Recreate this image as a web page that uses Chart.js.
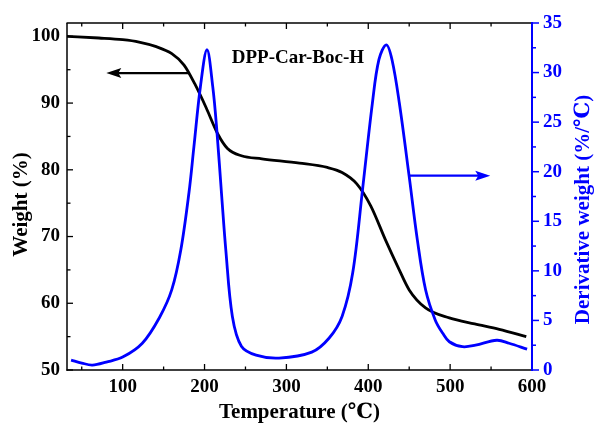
<!DOCTYPE html>
<html><head><meta charset="utf-8">
<script src="https://cdn.jsdelivr.net/npm/chart.js@4/dist/chart.umd.min.js"></script>
<style>html,body{margin:0;padding:0;background:#fff}canvas{display:block}</style>
</head><body>
<canvas id="c" width="598" height="429"></canvas>
<script>
// ---- data ----
const tgaTemp   = [32, 71, 100, 120, 140, 160, 175, 188, 202, 216, 228, 245, 270, 316, 350, 368, 386, 403, 421, 436, 450, 470, 499, 530, 560, 593];
const tgaWeight = [100, 99.75, 99.5, 99.15, 98.5, 97.4, 95.7, 92.9, 89.3, 85.4, 83.2, 82.1, 81.65, 81.0, 80.35, 79.6, 77.9, 74.6, 69.5, 65.5, 62.0, 59.3, 57.8, 56.9, 56.1, 55.0];
const dtgTemp   = [37, 50, 63, 80, 100, 124, 145, 160, 171, 181, 187, 195, 203, 210, 215, 221, 226, 234, 245, 263, 291, 331, 352, 368, 381, 393, 405, 413, 422, 429, 438, 450, 460, 470, 482, 491, 499, 515, 531, 557, 572, 594];
const dtgDeriv  = [1.0, 0.7, 0.5, 0.8, 1.3, 2.7, 5.3, 8.1, 12.1, 17.9, 22.5, 28.6, 32.3, 28.6, 24.2, 17.5, 12.1, 5.4, 2.4, 1.5, 1.2, 1.8, 3.2, 5.4, 9.8, 18.2, 26.9, 31.3, 32.8, 31.3, 26.9, 19.5, 13.1, 8.1, 5.0, 3.7, 2.85, 2.35, 2.5, 3.0, 2.7, 2.1];
const xTickValues      = [100, 200, 300, 400, 500, 600];
const xMinorValues     = [50, 150, 250, 350, 450, 550];
const weightTickValues = [50, 60, 70, 80, 90, 100];
const weightMinorValues= [55, 65, 75, 85, 95];
const derivTickValues  = [0, 5, 10, 15, 20, 25, 30, 35];
const derivMinorValues = [2.5, 7.5, 12.5, 17.5, 22.5, 27.5, 32.5];
const sampleName = 'DPP-Car-Boc-H';
const xTitle = 'Temperature (℃)';
const yTitle = 'Weight (%)';
const y1Title = 'Derivative weight (%/℃)';
// annotation arrows (data coordinates)
const weightArrow = {from: 181, to: 80, at: 94.5};
const derivArrow  = {from: 450, to: 549, at: 19.6};
const labelPos = {x: 314, y: 96.7};

const BLUE = '#0000ff';
const SERIF = '"Liberation Serif", "Times New Roman", "DejaVu Serif", serif';
const tickFont = {family: SERIF, size: 19, weight: 'bold'};

const tgaData = tgaTemp.map((t, i) => ({x: t, y: tgaWeight[i]}));
const dtgData = dtgTemp.map((t, i) => ({x: t, y: dtgDeriv[i]}));

function setTicks(values) {
  return function (scale) { scale.ticks = values.map(v => ({value: v})); };
}

const decorPlugin = {
  id: 'decor',
  afterDatasetsDraw(chart) {
    const {ctx, chartArea: a, scales} = chart;
    const sx = scales.x, sy = scales.y, sy1 = scales.y1;
    const line = (x0, y0, x1, y1) => { ctx.beginPath(); ctx.moveTo(x0, y0); ctx.lineTo(x1, y1); ctx.stroke(); };
    ctx.save();
    ctx.lineCap = 'butt';
    // black ticks (inward)
    ctx.strokeStyle = '#000'; ctx.lineWidth = 1.3;
    xTickValues.forEach(v => { const p = sx.getPixelForValue(v); line(p, a.bottom, p, a.bottom - 6); line(p, a.top, p, a.top + 6); });
    xMinorValues.forEach(v => { const p = sx.getPixelForValue(v); line(p, a.bottom, p, a.bottom - 3.5); line(p, a.top, p, a.top + 3.5); });
    weightTickValues.forEach(v => { const p = sy.getPixelForValue(v); line(a.left, p, a.left + 6, p); });
    weightMinorValues.forEach(v => { const p = sy.getPixelForValue(v); line(a.left, p, a.left + 3.5, p); });
    // frame
    ctx.lineWidth = 1.5;
    line(a.left - 0.5, a.top, a.right, a.top);
    line(a.left, a.top, a.left, a.bottom + 0.75);
    line(a.left - 0.5, a.bottom, a.right, a.bottom);
    // right axis in blue, ticks outward
    ctx.strokeStyle = BLUE; ctx.lineWidth = 2;
    line(a.right, a.top - 1, a.right, a.bottom + 1);
    ctx.lineWidth = 1.5;
    derivTickValues.forEach(v => { const p = sy1.getPixelForValue(v); line(a.right, p, a.right + 7, p); });
    derivMinorValues.forEach(v => { const p = sy1.getPixelForValue(v); line(a.right, p, a.right + 4, p); });

    // arrows
    const arrow = (x0, x1, yy, color) => {
      const dir = Math.sign(x1 - x0);
      ctx.strokeStyle = color; ctx.fillStyle = color; ctx.lineWidth = 2.2;
      line(x0, yy, x1 - dir * 10, yy);
      ctx.beginPath();
      ctx.moveTo(x1, yy);
      ctx.lineTo(x1 - dir * 15, yy - 5);
      ctx.lineTo(x1 - dir * 12, yy);
      ctx.lineTo(x1 - dir * 15, yy + 5);
      ctx.closePath(); ctx.fill();
    };
    arrow(sx.getPixelForValue(weightArrow.from), sx.getPixelForValue(weightArrow.to), sy.getPixelForValue(weightArrow.at), '#000');
    arrow(sx.getPixelForValue(derivArrow.from), sx.getPixelForValue(derivArrow.to), sy1.getPixelForValue(derivArrow.at), BLUE);

    // sample label
    ctx.fillStyle = '#000';
    ctx.font = 'bold 19px ' + SERIF;
    ctx.textAlign = 'center'; ctx.textBaseline = 'middle';
    ctx.fillText(sampleName, sx.getPixelForValue(labelPos.x), sy.getPixelForValue(labelPos.y));

    // y-axis titles (both read bottom-to-top)
    const cy = (a.top + a.bottom) / 2;
    ctx.font = 'bold 21px ' + SERIF;
    ctx.save(); ctx.translate(22, cy + 8); ctx.rotate(-Math.PI / 2);
    ctx.fillStyle = '#000'; ctx.fillText(yTitle, 0, 0); ctx.restore();
    ctx.save(); ctx.translate(a.right + 52, cy + 13); ctx.rotate(-Math.PI / 2);
    ctx.fillStyle = BLUE; ctx.fillText(y1Title, 0, 0); ctx.restore();
    ctx.restore();
  }
};

new Chart(document.getElementById('c'), {
  type: 'line',
  data: {
    datasets: [
      {label: 'DTG', data: dtgData, yAxisID: 'y1', borderColor: BLUE, borderWidth: 2.8, pointRadius: 0, tension: 0.35, fill: false, order: 0},
      {label: 'TGA', data: tgaData, yAxisID: 'y', borderColor: '#000', borderWidth: 2.8, pointRadius: 0, cubicInterpolationMode: 'monotone', fill: false, order: 1}
    ]
  },
  options: {
    responsive: false,
    animation: false,
    events: [],
    layout: {padding: {top: 23, left: 0, right: 0, bottom: 0}},
    plugins: {legend: {display: false}, tooltip: {enabled: false}},
    scales: {
      x: {
        type: 'linear', position: 'bottom', min: 32, max: 600,
        afterBuildTicks: setTicks(xTickValues),
        afterFit(s) { s.height = 59; },
        grid: {display: false, drawTicks: false}, border: {display: false},
        ticks: {color: '#000', font: tickFont, padding: 6, maxRotation: 0},
        title: {display: true, text: xTitle, color: '#000', font: {family: SERIF, size: 21, weight: 'bold'}, padding: {top: 0, bottom: 4}}
      },
      y: {
        type: 'linear', position: 'left', min: 50, max: 102,
        afterBuildTicks: setTicks(weightTickValues),
        afterFit(s) { s.width = 67; },
        grid: {display: false, drawTicks: false}, border: {display: false},
        ticks: {color: '#000', font: tickFont, padding: 7}
      },
      y1: {
        type: 'linear', position: 'right', min: 0, max: 35,
        afterBuildTicks: setTicks(derivTickValues),
        afterFit(s) { s.width = 66; },
        grid: {display: false, drawTicks: false}, border: {display: false},
        ticks: {color: BLUE, font: tickFont, padding: 11}
      }
    }
  },
  plugins: [decorPlugin]
});
</script>
</body></html>
